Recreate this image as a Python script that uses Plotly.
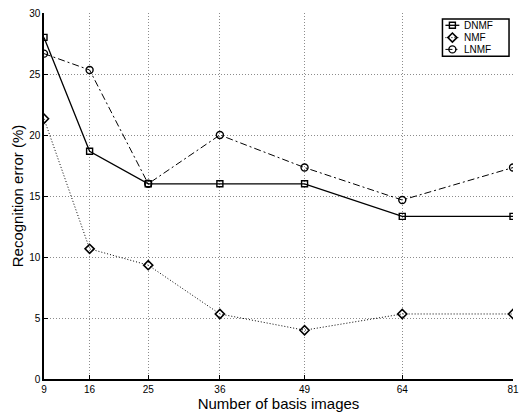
import plotly.graph_objects as go

basis = [9, 16, 25, 36, 49, 64, 81]
dnmf = [28.0, 18.67, 16.0, 16.0, 16.0, 13.33, 13.33]
nmf = [21.33, 10.67, 9.33, 5.33, 4.0, 5.33, 5.33]
lnmf = [26.67, 25.33, 16.0, 20.0, 17.33, 14.67, 17.33]
y_ticks = [0, 5, 10, 15, 20, 25, 30]

methods = ["DNMF", "NMF", "LNMF"]
FONT = "Liberation Sans, Arial, Helvetica, sans-serif"

styles = {
    "DNMF": dict(line=dict(color="black", width=1.3, dash="solid"),
                 marker=dict(symbol="square-open", size=6, color="black", line=dict(width=1.4))),
    "NMF": dict(line=dict(color="black", width=1.0, dash="1px,2px"),
                marker=dict(symbol="diamond-open", size=7, color="black", line=dict(width=1.6))),
    "LNMF": dict(line=dict(color="black", width=1.0, dash="7px,3px,2px,3px"),
                 marker=dict(symbol="circle-open", size=7, color="black", line=dict(width=1.4))),
}
series = {"DNMF": dnmf, "NMF": nmf, "LNMF": lnmf}

fig = go.Figure()
for name in methods:
    fig.add_trace(go.Scatter(x=basis, y=series[name], name=name, mode="lines+markers",
                             showlegend=False, **styles[name]))

# Compact boxed legend, laid out on a hidden overlay axis pair measured in pixels
LX0, LX1, LY0, LY1 = 445, 512, 13, 51
row_y = [19.5, 32.0, 44.0]
for name, ry in zip(methods, row_y):
    fig.add_trace(go.Scatter(x=[448, 462], y=[ry, ry], mode="lines", line=styles[name]["line"],
                             xaxis="x2", yaxis="y2", showlegend=False, hoverinfo="skip"))
    fig.add_trace(go.Scatter(x=[455], y=[ry], mode="markers", marker=styles[name]["marker"],
                             xaxis="x2", yaxis="y2", showlegend=False, hoverinfo="skip"))
    fig.add_annotation(x=465, y=ry, xref="x2", yref="y2", text=name, showarrow=False,
                       xanchor="left", yanchor="middle",
                       font=dict(family=FONT, size=10, color="black"))
fig.add_shape(type="rect", x0=LX0, x1=LX1, y0=LY0, y1=LY1, xref="x2", yref="y2",
              line=dict(color="black", width=1.5), fillcolor="white", layer="below")

axis_common = dict(
    showgrid=True, gridcolor="#8c8c8c", griddash="1px,2px", gridwidth=1,
    zeroline=False, showline=True, linecolor="black", linewidth=1.5,
    ticks="inside", ticklen=4, tickcolor="black", tickwidth=1,
    tickfont=dict(family=FONT, size=10, color="black"),
    mirror=False,
)

fig.update_layout(
    width=526, height=419,
    margin=dict(l=44, r=10, t=7, b=40),
    paper_bgcolor="white", plot_bgcolor="white",
    font=dict(family=FONT, color="black"),
    showlegend=False,
    xaxis=dict(
        range=[9, 81], tickvals=basis, ticktext=[str(v) for v in basis],
        title=dict(text="Number of basis images", font=dict(family=FONT, size=15), standoff=4),
        **axis_common,
    ),
    yaxis=dict(
        range=[0, 30], tickvals=y_ticks,
        title=dict(text="Recognition error (%)", font=dict(family=FONT, size=15), standoff=2),
        **axis_common,
    ),
    xaxis2=dict(range=[44, 516], overlaying="x", visible=False, fixedrange=True),
    yaxis2=dict(range=[379, 7], overlaying="y", visible=False, fixedrange=True),
)

fig.write_html("out.html")
